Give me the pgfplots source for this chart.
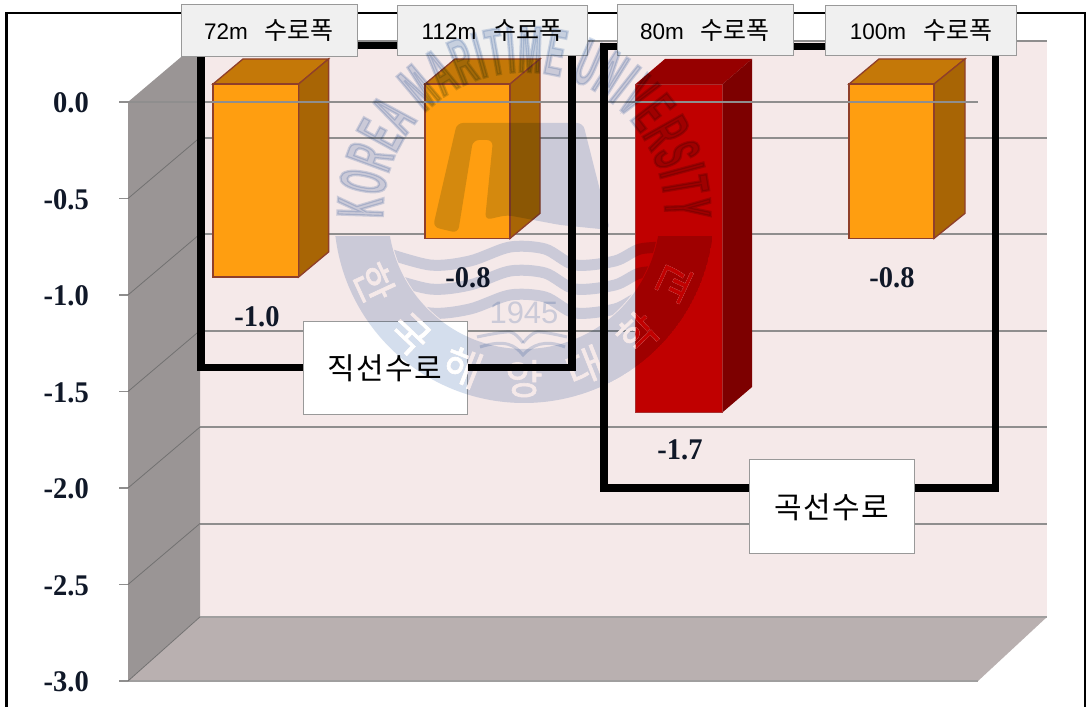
\documentclass[border=0pt]{standalone}
\usepackage{pgfplots}
\pgfplotsset{compat=1.18}
\usepackage{fontspec}
\usetikzlibrary{decorations.text}
\setmainfont{Liberation Sans}
\newfontfamily\cjk{Noto Sans CJK KR}
\newfontfamily\cjkb[FakeBold=1.5]{Noto Sans CJK KR}
\newfontfamily\numf[FakeStretch=0.95]{Liberation Serif Bold}
\newfontfamily\wmf[FakeStretch=0.42,FakeBold=3.5]{Liberation Sans Bold}
\definecolor{wallside}{HTML}{9A9595}
\definecolor{wallback}{HTML}{F5E9E9}
\definecolor{floorc}{HTML}{B9B0B0}
\definecolor{gridc}{HTML}{8F8E8E}
\definecolor{org}{HTML}{FF9E10}
\definecolor{orgtop}{HTML}{C47808}
\definecolor{orgside}{HTML}{A86505}
\definecolor{orgedge}{HTML}{8F3F2A}
\definecolor{redf}{HTML}{C00000}
\definecolor{redtop}{HTML}{960000}
\definecolor{redside}{HTML}{7D0000}
\definecolor{rededge}{HTML}{A83030}
\definecolor{numc}{HTML}{101828}
\definecolor{wm}{RGB}{212,222,237}
\newcommand{\toplabel}[5]{%
  \node[draw=black!40,fill=black!6,line width=1pt,minimum width=#3pt,minimum height=#4pt,inner sep=0pt,anchor=center] at (#1,#2) {\fontsize{22.5}{23}\selectfont #5};}
\newcommand{\ringtext}[1]{%
  \path[decorate,decoration={text along path,text align={fit to path},
   text={|\cjkb\fontsize{41}{41}\selectfont\color{#1}|한국해양대학교}}]
   (524,494) ++(199:181) arc (199:341:181);}
\begin{document}
\begin{tikzpicture}
\path[use as bounding box] (0,0) rectangle (1088pt,707pt);
\fill[white] (0,0) rectangle (1088pt,707pt);
% outer frame
\begin{scope}[shift={(0,707pt)},x=1pt,y=-1pt]
\draw[black,line width=2.5pt] (6.5,707) -- (6.5,13) -- (1085,13) -- (1085,707);
\end{scope}
\begin{axis}[
  at={(128pt,0pt)},anchor=south west,
  scale only axis,width=960pt,height=707pt,
  xmin=128,xmax=1088,ymin=-3.1347,ymax=0.5285,
  clip=false,
  axis x line=none,
  axis y line=left,
  y axis line style={draw=none,-},
  ytick={0,-0.5,-1,-1.5,-2,-2.5,-3},
  tick align=outside,
  major tick length=9pt,
  y tick style={draw=gridc,line width=1.5pt},
  /pgf/number format/assume math mode=true,
  /pgf/number format/fixed,
  /pgf/number format/fixed zerofill,
  /pgf/number format/precision=1,
  yticklabel style={anchor=east,inner sep=0pt,xshift=-30pt,yshift=-1pt,text=numc,
     font=\fontsize{30}{30}\selectfont\numf},
]
% walls
\addplot[fill=wallback,draw=none] coordinates {(200,0.316)(1047,0.316)(1047,-2.668)(200,-2.668)} --cycle;
\addplot[fill=wallside,draw=none] coordinates {(128,0)(200,0.316)(200,-2.668)(128,-3)} --cycle;
\addplot[fill=floorc,draw=none] coordinates {(128,-3)(200,-2.668)(1047,-2.668)(978,-3)} --cycle;
% back grid lines
\addplot[gridc,line width=2pt] coordinates {(200,0.316)(1047,0.316)};
\addplot[gridc,line width=2pt] coordinates {(200,-0.184)(1047,-0.184)};
\addplot[gridc,line width=2pt] coordinates {(200,-0.684)(1047,-0.684)};
\addplot[gridc,line width=2pt] coordinates {(200,-1.184)(1047,-1.184)};
\addplot[gridc,line width=2pt] coordinates {(200,-1.684)(1047,-1.684)};
\addplot[gridc,line width=2pt] coordinates {(200,-2.184)(1047,-2.184)};
\addplot[gridc!85!white,line width=2.5pt] coordinates {(200,-2.668)(1047,-2.668)};
\addplot[gridc!85!white,line width=2.5pt] coordinates {(128,-3)(978,-3)};
% side wall diagonals
\addplot[gridc!80!black,line width=0.8pt] coordinates {(128,-0.5)(200,-0.184)};
\addplot[gridc!80!black,line width=0.8pt] coordinates {(128,-1)(200,-0.684)};
\addplot[gridc!80!black,line width=0.8pt] coordinates {(128,-1.5)(200,-1.184)};
\addplot[gridc!80!black,line width=0.8pt] coordinates {(128,-2)(200,-1.684)};
\addplot[gridc!80!black,line width=0.8pt] coordinates {(128,-2.5)(200,-2.184)};
\addplot[gridc!80!black,line width=0.8pt] coordinates {(128,-3)(200,-2.668)};
% bar 1
\addplot[fill=orgtop,draw=orgedge,line width=1.3pt] coordinates {(213,0.093)(298.6,0.093)(328.6,0.223)(243,0.223)} --cycle;
\addplot[fill=orgside,draw=orgedge,line width=1.3pt] coordinates {(298.6,0.093)(328.6,0.223)(328.6,-0.777)(298.6,-0.907)} --cycle;
\addplot[fill=org,draw=orgedge,line width=1.3pt] coordinates {(213,0.093)(298.6,0.093)(298.6,-0.907)(213,-0.907)} --cycle;
% bar 2
\addplot[fill=orgtop,draw=orgedge,line width=1.3pt] coordinates {(425,0.093)(510,0.093)(540,0.223)(455,0.223)} --cycle;
\addplot[fill=orgside,draw=orgedge,line width=1.3pt] coordinates {(510,0.093)(540,0.223)(540,-0.577)(510,-0.707)} --cycle;
\addplot[fill=org,draw=orgedge,line width=1.3pt] coordinates {(425,0.093)(510,0.093)(510,-0.707)(425,-0.707)} --cycle;
% bar 3
\addplot[fill=redtop,draw=none] coordinates {(635.6,0.093)(722.7,0.093)(752,0.223)(665,0.223)} --cycle;
\addplot[fill=redside,draw=none] coordinates {(722.7,0.093)(752,0.223)(752,-1.477)(722.7,-1.607)} --cycle;
\addplot[fill=redf,draw=rededge,line width=1pt] coordinates {(635.6,0.093)(722.7,0.093)(722.7,-1.607)(635.6,-1.607)} --cycle;
% bar 4
\addplot[fill=orgtop,draw=orgedge,line width=1.3pt] coordinates {(849,0.093)(934,0.093)(965,0.223)(879,0.223)} --cycle;
\addplot[fill=orgside,draw=orgedge,line width=1.3pt] coordinates {(934,0.093)(965,0.223)(965,-0.577)(934,-0.707)} --cycle;
\addplot[fill=org,draw=orgedge,line width=1.3pt] coordinates {(849,0.093)(934,0.093)(934,-0.707)(849,-0.707)} --cycle;
% front zero line over the bars
\addplot[gridc,line width=1.8pt] coordinates {(119,0)(978,0)};
% value labels
\node[text=numc,font=\fontsize{30}{30}\selectfont\numf] at (axis cs:257,-1.114) {-1.0};
\node[text=numc,font=\fontsize{30}{30}\selectfont\numf] at (axis cs:468,-0.912) {-0.8};
\node[text=numc,font=\fontsize{30}{30}\selectfont\numf] at (axis cs:680,-1.803) {-1.7};
\node[text=numc,font=\fontsize{30}{30}\selectfont\numf] at (axis cs:892,-0.912) {-0.8};
\end{axis}
\begin{scope}[shift={(0,707pt)},x=1pt,y=-1pt]
% thick black brackets
\draw[black,line width=7.5pt,line join=miter] (201,45.5) rectangle (572,367.5);
\draw[black,line width=7.5pt,line join=miter] (604,46.5) rectangle (995.5,488);
% top labels
\toplabel{269}{31}{176}{52}{72m\hspace{17pt}{\cjk\fontsize{25}{25}\selectfont 수로폭}}
\toplabel{492}{31}{190}{50}{112m\hspace{17pt}{\cjk\fontsize{25}{25}\selectfont 수로폭}}
\toplabel{705}{30.5}{176}{51}{80m\hspace{17pt}{\cjk\fontsize{25}{25}\selectfont 수로폭}}
\toplabel{921}{31}{191}{50}{100m\hspace{17pt}{\cjk\fontsize{25}{25}\selectfont 수로폭}}
% group labels
\node[draw=black!40,fill=white,line width=1pt,minimum width=164pt,minimum height=93pt,inner sep=0pt] at (385,368.5) {\cjk\fontsize{30}{30}\selectfont 직\hspace{1.5pt}선\hspace{1.5pt}수\hspace{1.5pt}로};
\node[draw=black!40,fill=white,line width=1pt,minimum width=165pt,minimum height=94pt,inner sep=0pt] at (832,507) {\cjk\fontsize{30}{30}\selectfont 곡\hspace{1.5pt}선\hspace{1.5pt}수\hspace{1.5pt}로};
\end{scope}
% watermark (y up, pixels), multiplied on what lies below
\begin{scope}[x=1pt,y=1pt]
\begin{scope}[blend mode=multiply]
\path[decorate,decoration={text along path,text align={fit to path},
   text={|\wmf\fontsize{66}{66}\selectfont\color{wm}|KOREA MARITIME UNIVERSITY}}]
   (524,494) ++(182:141) arc (182:-2:141);
% bowl ring
\begin{scope}
\clip (524,494) ++(187:190) arc (187:353:190) -- cycle;
\fill[wm,even odd rule] (524,494) circle (190) (524,494) circle (136);
\clip (524,494) circle (135);
\foreach \b in {0,24,48}{
  \draw[wm,line width=11pt,yshift=-\b pt] plot[smooth] coordinates {(380,456)(430,442)(470,446)(510,460)(545,458)(575,442)(615,446)(640,458)(670,460)};
}
\end{scope}
% year and book
\node[text=wm,font=\fontsize{31}{31}\selectfont] at (524,394) {1945};
\draw[wm,line width=3pt] plot[smooth] coordinates {(477,370)(510,375)(523,364)};
\draw[wm,line width=3pt] plot[smooth] coordinates {(523,364)(537,375)(567,370)};
\draw[wm,line width=3pt] (480,360) .. controls (505,368) and (515,362) .. (523,352) .. controls (532,362) and (545,368) .. (565,360);
% pillar emblem
\fill[wm,rounded corners=6pt] (433,480) -- (457,584) -- (583,584) -- (610,477) -- (560,482) -- (507,492) -- (485,487) -- (493,567) -- (473,567) -- (458,474) -- cycle;
\end{scope}
% ring letters in the colours of what lies below
\ringtext{wallback}
\begin{scope}\clip (303,292) rectangle (467,385); \ringtext{white} \end{scope}
\begin{scope}\clip (635.6,295) rectangle (722.7,623); \ringtext{redf} \end{scope}
\begin{scope}\clip (722.7,295) rectangle (752,648); \ringtext{redside} \end{scope}
% brackets stay black through the watermark
\draw[black,line width=7.5pt,line join=miter] (572,650) -- (572,339.5) -- (467.5,339.5);
\draw[black,line width=7.5pt] (604,650) -- (604,219);
\end{scope}
\end{tikzpicture}
\end{document}
